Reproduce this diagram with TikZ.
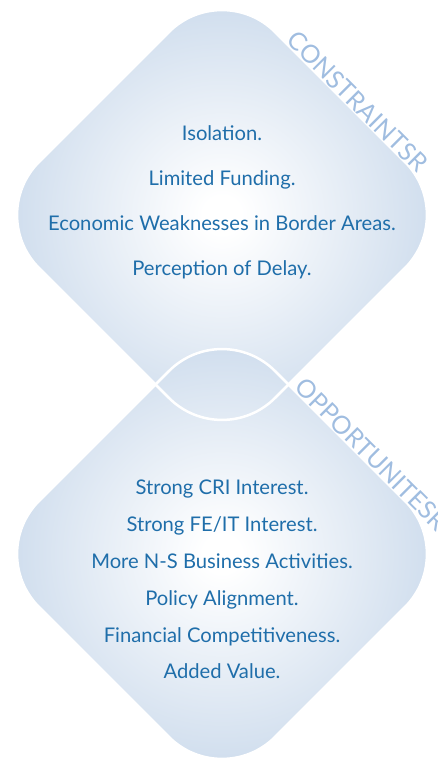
\documentclass[tikz,border=0pt]{standalone}
\usepackage{fontspec}
\setmainfont{Lato}
\definecolor{paleblue}{RGB}{190,209,231}
\definecolor{itemblue}{RGB}{31,110,170}
\definecolor{tagblue}{RGB}{160,189,224}
\pgfdeclareradialshading{diamondglow}{\pgfpoint{0bp}{0bp}}{color(0bp)=(white); color(2bp)=(white); color(30bp)=(paleblue); color(50bp)=(paleblue)}

\begin{document}
\begin{tikzpicture}[x=1pt,y=1pt,
  item/.style={text=itemblue,font=\fontsize{20.2}{22}\selectfont,anchor=base,inner sep=0pt},
  tag/.style={text=tagblue,font=\fontsize{25}{27}\selectfont,anchor=south west,inner sep=0pt,rotate=-45},
  box fill/.style={rounded corners=75pt,shading=diamondglow},
  box line/.style={rounded corners=75pt,draw=white,line width=2.5pt}]

  \useasboundingbox (0,0) rectangle (437,760);

  % corners of the two diamonds
  \coordinate (ct) at (222,781);
  \coordinate (cr) at (458,545);
  \coordinate (cb) at (222,309);
  \coordinate (cl) at (-14,545);
  \coordinate (ot) at (222,442);
  \coordinate (or) at (458,206);
  \coordinate (ob) at (222,-30);
  \coordinate (ol) at (-14,206);

  \shade[box fill] (ct) -- (cr) -- (cb) -- (cl) -- cycle;
  \shade[box fill] (ot) -- (or) -- (ob) -- (ol) -- cycle;
  \path[box line] (ct) -- (cr) -- (cb) -- (cl) -- cycle;
  \path[box line] (ot) -- (or) -- (ob) -- (ol) -- cycle;

  \node[tag] (constraints) at (285,718) {CONSTRAINTSR};
  \node[tag] (opportunities) at (293,371) {OPPORTUNITESR};

  \node[item] (c1) at (222,619) {Isolation.};
  \node[item] (c2) at (222,574) {Limited Funding.};
  \node[item] (c3) at (222,529) {Economic Weaknesses in Border Areas.};
  \node[item] (c4) at (222,484) {Perception of Delay.};

  \node[item] (o1) at (222,265) {Strong CRI Interest.};
  \node[item] (o2) at (222,228) {Strong FE/IT Interest.};
  \node[item] (o3) at (222,191) {More N-S Business Activities.};
  \node[item] (o4) at (222,154) {Policy Alignment.};
  \node[item] (o5) at (222,117) {Financial Competitiveness.};
  \node[item] (o6) at (222,81) {Added Value.};

\end{tikzpicture}
\end{document}
